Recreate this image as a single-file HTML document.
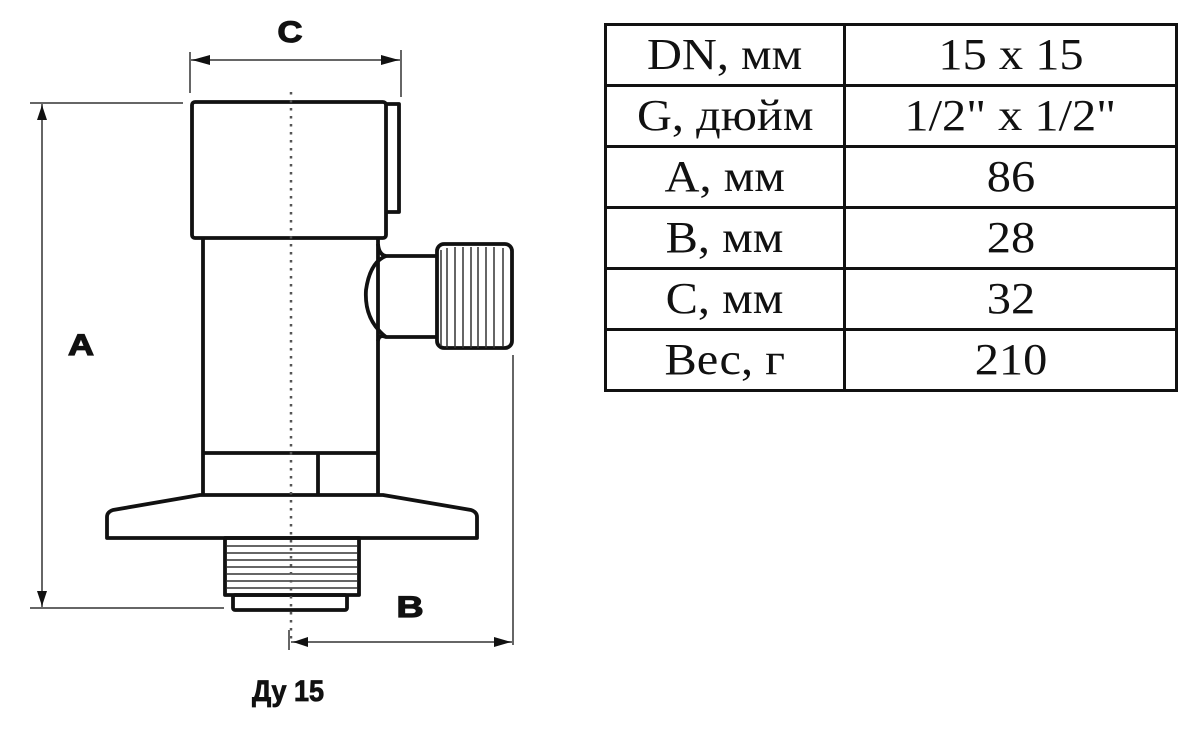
<!DOCTYPE html>
<html><head><meta charset="utf-8"><style>
html,body{margin:0;padding:0;background:#fff;width:1200px;height:733px;overflow:hidden}
svg{position:absolute;left:0;top:0}
table{position:absolute;left:604px;top:23px;border-collapse:collapse;font-family:"Liberation Serif","DejaVu Serif",serif;font-size:44px;color:#111}
td{border:3px solid #111;height:58px;padding:0;text-align:center;line-height:58px}
td span{display:inline-block;transform:scaleX(1.1)}
td.a{width:236px}td.b{width:329px}
</style></head><body>
<svg width="1200" height="733" viewBox="0 0 1200 733">
<g stroke="#111" fill="none" stroke-width="3.8" stroke-linejoin="round">
<rect x="192" y="102" width="194" height="136" rx="3"/>
<path d="M386 104 H399 V212 H386"/>
<path d="M203 238 V495 M378 238 V495"/>
<path d="M203 453 H378 M318 453 V495"/>
<path d="M378 244 Q379 255 386 256 H437 M378 341 Q379 334 386 337 H437"/>
<path d="M386 256 Q370 262 366 290 Q364 320 386 337"/>
<rect x="437" y="244" width="75" height="104" rx="7"/>
<path d="M200 495 H383 L471 510 Q477 512 477 517 V538 H107 V517 Q107 512 113 510 Z"/>
<rect x="225" y="538" width="134" height="57"/>
<rect x="233" y="595" width="114" height="15" rx="2"/>
</g>
<g stroke="#333" stroke-width="1.5">
<path d="M441 250 V346 M447 248 V348 M455 247 V348 M463 247 V348 M471 247 V348 M478 247 V348 M486 247 V348 M494 247 V348 M503 248 V346"/>
<path d="M227 546 H357 M227 553 H357 M227 560 H357 M227 567 H357 M227 574 H357 M227 581 H357 M227 588 H357"/>
</g>
<line x1="291" y1="92" x2="291" y2="640" stroke="#555" stroke-width="2.5" stroke-dasharray="2.5 5.5"/>
<g stroke="#666" stroke-width="2" fill="none">
<path d="M190 52 V93 M401 50 V97 M190 60 H401"/>
<path d="M30 103 H183 M42 103 V608 M30 608 H224"/>
<path d="M513 355 V645 M291 642 H513 M289 630 V650"/>
</g>
<g fill="#111">
<path d="M192 60 L210 55 L210 65 Z M399 60 L381 55 L381 65 Z"/>
<path d="M42 105 L37 120 L47 120 Z M42 606 L37 591 L47 591 Z"/>
<path d="M293 642 L308 637 L308 647 Z M511 642 L494 637 L494 647 Z"/>
</g>
<g font-family="Liberation Sans, DejaVu Sans, sans-serif" font-weight="bold" fill="#111" text-anchor="middle" stroke="#111" stroke-width="1.2">
<text x="290" y="42" font-size="30" transform="translate(290 0) scale(1.15 1) translate(-290 0)">C</text>
<text x="81" y="355" font-size="30" transform="translate(81 0) scale(1.2 1) translate(-81 0)">A</text>
<text x="410" y="617" font-size="30" transform="translate(410 0) scale(1.25 1) translate(-410 0)">B</text>
<text x="288" y="701" font-size="30" stroke-width="0.8" transform="translate(288 0) scale(0.9 1) translate(-288 0)">Ду 15</text>
</g>
</svg>
<table>
<tr><td class="a"><span>DN, мм</span></td><td class="b"><span>15 х 15</span></td></tr>
<tr><td class="a"><span>G, дюйм</span></td><td class="b"><span>1/2" х 1/2"</span></td></tr>
<tr><td class="a"><span>A, мм</span></td><td class="b"><span>86</span></td></tr>
<tr><td class="a"><span>B, мм</span></td><td class="b"><span>28</span></td></tr>
<tr><td class="a"><span>C, мм</span></td><td class="b"><span>32</span></td></tr>
<tr><td class="a"><span>Вес, г</span></td><td class="b"><span>210</span></td></tr>
</table>
</body></html>
